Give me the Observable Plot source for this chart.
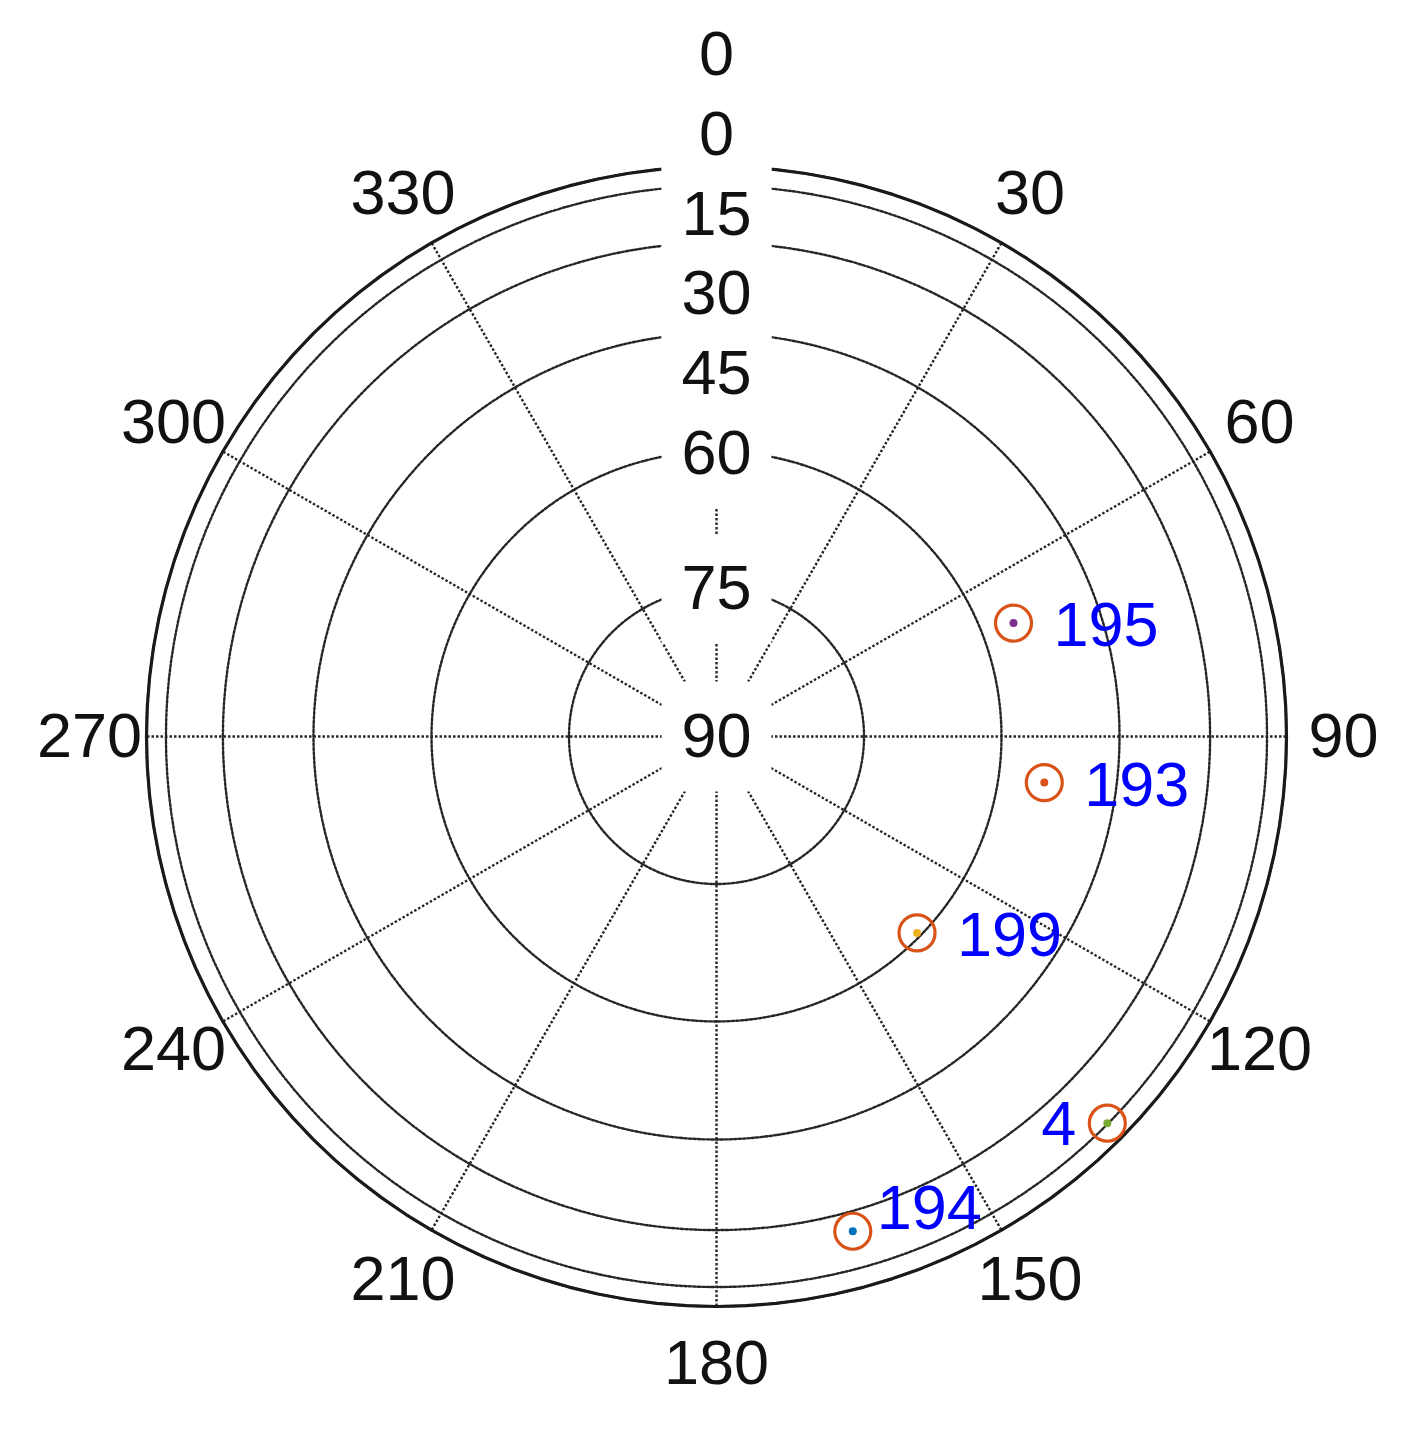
<!DOCTYPE html>
<html><head><meta charset="utf-8">
<script src="https://cdn.jsdelivr.net/npm/d3@7"></script>
<script src="https://cdn.jsdelivr.net/npm/@observablehq/plot@0.6"></script>
<style>body{margin:0;background:#fff}svg{display:block}</style>
</head><body><div id="chart"></div>
<script>
// ---- data ----
const satIds = ["195", "193", "199", "4", "194"];
const satAzimuth = [69.1, 98.0, 134.4, 134.7, 164.6];     // degrees, clockwise from north
const satElevation = [56.1, 54.5, 60.5, 15.3, 25.8];      // degrees
const satColors = ["#7E2F8E", "#D95319", "#EDB120", "#77AC30", "#0072BD"];
const satLabelSide = ["right", "right", "right", "left", "upper"];
const elevationTicks = [0, 15, 30, 45, 60, 75, 90];
const azimuthTicks = [0, 30, 60, 90, 120, 150, 180, 210, 240, 270, 300, 330];

// ---- geometry helpers (radius = cos(elevation)) ----
const rad = Math.PI / 180;
const px = (az, el) => Math.cos(el * rad) * Math.sin(az * rad);
const py = (az, el) => Math.cos(el * rad) * Math.cos(az * rad);

const W = 1401, H = 1437, CX = 716, CY = 736, R = 570;

const sats = satIds.map((id, i) => ({
  id, az: satAzimuth[i], el: satElevation[i], color: satColors[i], side: satLabelSide[i]
}));

const ringPts = [];
for (const el of elevationTicks.filter(e => e < 90))
  for (let a = 0; a <= 360; a += 2) ringPts.push({el, a, x: px(a, el), y: py(a, el)});
const outerPts = d3.range(0, 361, 3).map(a => ({x: px(a, 0), y: py(a, 0)}));

// elevation labels: on their ring, pushed inward so they don't collide
const spacing = 0.14;
const elevLabels = [];
let prev = null;
for (const el of elevationTicks) {
  const ring = Math.cos(el * rad);
  const r = prev === null ? 1 + 0.4 * spacing : Math.min(ring, prev - spacing);
  elevLabels.push({el, r: el === 90 ? 0 : r});
  prev = r;
}
const azLabels = azimuthTicks.map(az => {
  const r = az === 0 ? Math.max(1.1, elevLabels[0].r + spacing) : 1.1;
  return {az, x: r * Math.sin(az * rad), y: r * Math.cos(az * rad)};
});

const grid = {stroke: "#262626", strokeWidth: 2.4, strokeDasharray: "2.5,2"};
const font = 63;
const sideOpts = {
  right: {dx: 40, dy: 3, textAnchor: "start"},
  left: {dx: -31, dy: 2, textAnchor: "end"},
  upper: {dx: 24, dy: -22, textAnchor: "start"}
};

const chart = Plot.plot({
  width: W, height: H,
  margin: 0,
  style: {fontFamily: "'Liberation Sans', Arial, sans-serif", background: "white"},
  x: {domain: [-CX / R, (W - CX) / R], range: [0, W], axis: null},
  y: {domain: [-(H - CY) / R, CY / R], range: [H, 0], axis: null},
  marks: [
    Plot.line(ringPts, {x: "x", y: "y", z: "el", ...grid}),
    Plot.link(azimuthTicks, {x1: 0, y1: 0, x2: d => px(d, 0), y2: d => py(d, 0), ...grid}),
    Plot.line(outerPts, {x: "x", y: "y", stroke: "#1a1a1a", strokeWidth: 3.2}),
    Plot.dot(elevLabels, {x: 0, y: "r", symbol: "square", r: 62, fill: "white", stroke: "none"}),
    Plot.text(elevLabels, {x: 0, y: "r", text: d => String(d.el), fontSize: font, fill: "#111"}),
    Plot.text(azLabels, {x: "x", y: "y", text: d => String(d.az), fontSize: font, fill: "#111"}),
    Plot.dot(sats, {x: d => px(d.az, d.el), y: d => py(d.az, d.el), r: 18, stroke: "#D95319", strokeWidth: 3.2, fill: "none"}),
    Plot.dot(sats, {x: d => px(d.az, d.el), y: d => py(d.az, d.el), r: 4, fill: "color", stroke: "none"}),
    ...Object.entries(sideOpts).map(([side, o]) =>
      Plot.text(sats.filter(d => d.side === side), {
        x: d => px(d.az, d.el), y: d => py(d.az, d.el), text: "id",
        fontSize: font, fill: "#0000FF", ...o
      }))
  ]
});
document.getElementById("chart").append(chart);
</script>
</body></html>
